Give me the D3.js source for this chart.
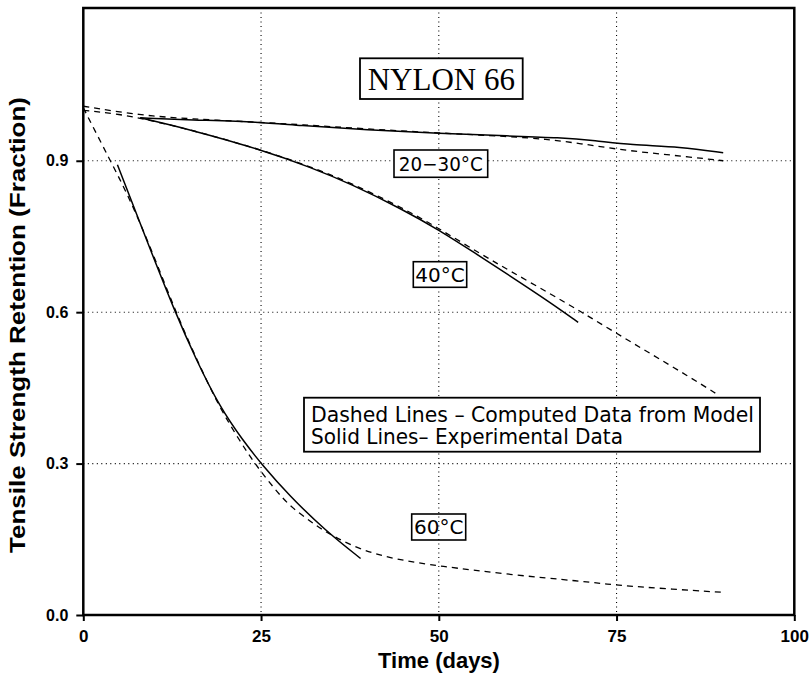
<!DOCTYPE html>
<html>
<head>
<meta charset="utf-8">
<script src="https://cdn.jsdelivr.net/npm/d3@7"></script>
<style>
  html, body { margin: 0; padding: 0; background: #fff; }
  svg { display: block; }
  .tick text { font-family: "Liberation Sans", Arial, sans-serif; font-weight: bold; fill: #000; }
  .box-label { font-family: "DejaVu Sans", sans-serif; fill: #000; }
</style>
</head>
<body>
<svg id="mainsvg" width="812" height="674"></svg>
<script>
// values: [days, retention]
var exp2030 = [[8, 0.985], [15, 0.981], [25, 0.977], [30, 0.970], [40, 0.961], [50, 0.954], [60, 0.949], [67, 0.946], [72, 0.940], [77, 0.931], [84, 0.928], [90, 0.916]];
var model2030 = [[0, 1.008], [8, 0.990], [15, 0.983], [25, 0.976], [30, 0.972], [40, 0.963], [50, 0.955], [60, 0.948], [65, 0.943], [70, 0.934], [75, 0.923], [80, 0.915], [85, 0.908], [90, 0.900]];
var exp40 = [[8, 0.985], [15, 0.962], [25, 0.922], [32, 0.887], [37.5, 0.855], [45, 0.803], [50, 0.763], [55, 0.718], [60, 0.672], [65.6, 0.620], [69.6, 0.580]];
var model40 = [[0, 1.000], [5, 0.993], [10, 0.978], [15, 0.962], [25, 0.922], [32, 0.888], [37.5, 0.857], [45, 0.806], [50, 0.766], [55.8, 0.716], [60, 0.682], [65.6, 0.637], [70, 0.601], [75, 0.558], [80, 0.516], [85, 0.474], [89.3, 0.436]];
var exp60 = [[4.8, 0.892], [8.9, 0.743], [12.9, 0.600], [15.9, 0.505], [19.2, 0.412], [22.5, 0.345], [25, 0.300], [29, 0.236], [34, 0.168], [39, 0.112]];
var model60 = [[0, 1.005], [3.8, 0.900], [6, 0.840], [9, 0.745], [13, 0.600], [16, 0.505], [19, 0.415], [22, 0.345], [24.1, 0.300], [27, 0.248], [29.1, 0.215], [32, 0.185], [34.2, 0.163], [38.9, 0.129], [44, 0.110], [50, 0.097], [60, 0.080], [70, 0.067], [75, 0.059], [82, 0.052], [89.8, 0.045]];

var xTicks = [0, 25, 50, 75, 100];
var yTicks = [0.0, 0.3, 0.6, 0.9];
var xGrid = [25, 50, 75];
var yGrid = [0.3, 0.6, 0.9];

var svg = d3.select("#mainsvg");
var plotLeft = 83.3, plotRight = 794.3, plotTop = 8, plotBottom = 615;

var x = d3.scaleLinear().domain([0, 100]).range([plotLeft, plotRight]);
var y = d3.scaleLinear().domain([0, 1.2]).range([plotBottom, plotBottom - 1.2 * 504.7]);

// dotted grid
var grid = svg.append("g").attr("class", "grid")
  .attr("stroke", "#000").attr("stroke-width", 1.1).attr("stroke-dasharray", "1,3.5");
grid.selectAll("line.gx").data(xGrid).enter().append("line")
  .attr("x1", function (d) { return x(d); }).attr("x2", function (d) { return x(d); })
  .attr("y1", plotTop).attr("y2", plotBottom);
grid.selectAll("line.gy").data(yGrid).enter().append("line")
  .attr("x1", plotLeft).attr("x2", plotRight)
  .attr("y1", function (d) { return y(d); }).attr("y2", function (d) { return y(d); });

// curves
var line = d3.line()
  .x(function (d) { return x(d[0]); })
  .y(function (d) { return y(d[1]); })
  .curve(d3.curveBasis);

var series = [
  { data: model2030, dashed: true },
  { data: model40, dashed: true },
  { data: model60, dashed: true },
  { data: exp2030, dashed: false },
  { data: exp40, dashed: false },
  { data: exp60, dashed: false }
];
svg.append("g").attr("class", "curves").selectAll("path").data(series).enter().append("path")
  .attr("d", function (d) { return line(d.data); })
  .attr("fill", "none")
  .attr("stroke", "#000")
  .attr("stroke-width", function (d) { return d.dashed ? 1.3 : 1.5; })
  .attr("stroke-dasharray", function (d) { return d.dashed ? "6,5" : null; });

// axes
var xAxis = svg.append("g").attr("transform", "translate(0," + plotBottom + ")")
  .call(d3.axisBottom(x).tickValues(xTicks).tickFormat(d3.format("d")).tickSize(6).tickPadding(9));
var yAxis = svg.append("g").attr("transform", "translate(" + plotLeft + ",0)")
  .call(d3.axisLeft(y).tickValues(yTicks).tickFormat(d3.format(".1f")).tickSize(7).tickPadding(8));
xAxis.selectAll(".tick text").style("font-size", "17px");
yAxis.selectAll(".tick text").style("font-size", "16px");
xAxis.selectAll(".tick line").attr("stroke-width", 2);
yAxis.selectAll(".tick line").attr("stroke-width", 2);
xAxis.select(".domain").remove();
yAxis.select(".domain").remove();

// frame
svg.append("rect")
  .attr("x", plotLeft).attr("y", plotTop)
  .attr("width", plotRight - plotLeft).attr("height", plotBottom - plotTop)
  .attr("fill", "none").attr("stroke", "#000").attr("stroke-width", 2.5);

// axis titles
svg.append("text")
  .attr("x", 439).attr("y", 668)
  .attr("text-anchor", "middle")
  .style("font-family", "Liberation Sans, Arial, sans-serif")
  .style("font-weight", "bold").style("font-size", "22px")
  .text("Time (days)");
svg.append("text")
  .attr("transform", "translate(25,325) rotate(-90)")
  .attr("text-anchor", "middle")
  .attr("textLength", 456)
  .attr("lengthAdjust", "spacingAndGlyphs")
  .style("font-family", "Liberation Sans, Arial, sans-serif")
  .style("font-weight", "bold").style("font-size", "22px")
  .text("Tensile Strength Retention (Fraction)");

// boxed labels
function boxLabel(bx, by, bw, bh, lines, opts) {
  var g = svg.append("g");
  g.append("rect")
    .attr("x", bx).attr("y", by).attr("width", bw).attr("height", bh)
    .attr("fill", opts.fill ? "#fff" : "none")
    .attr("stroke", "#000").attr("stroke-width", opts.sw || 1.6);
  lines.forEach(function (t, i) {
    var txt = g.append("text")
      .attr("class", "box-label")
      .attr("x", opts.anchor == "start" ? bx + opts.pad : bx + bw / 2)
      .attr("y", opts.base[i])
      .attr("text-anchor", opts.anchor || "middle")
      .style("font-size", opts.size + "px")
      .style("font-family", opts.font || null)
      .text(t);
    if (opts.lens) {
      txt.attr("textLength", opts.lens[i]).attr("lengthAdjust", "spacingAndGlyphs");
    }
  });
}

boxLabel(360, 58.3, 162.7, 40.7, ["NYLON 66"], { fill: true, size: 31, base: [90], font: "Liberation Serif, Times New Roman, serif", sw: 1.8 });
boxLabel(394, 150, 93.7, 27.3, ["20\u221230\u00B0C"], { fill: true, size: 20, base: [171], lens: [84] });
boxLabel(413.3, 261.7, 53.4, 25.6, ["40\u00B0C"], { fill: true, size: 20, base: [282] });
boxLabel(411.7, 514, 54, 26, ["60\u00B0C"], { fill: false, size: 20, base: [534] });
boxLabel(304, 397.7, 456, 54, ["Dashed Lines \u2013 Computed Data from Model", "Solid Lines\u2013 Experimental Data"],
  { fill: true, size: 21, base: [422, 444], anchor: "start", pad: 7, sw: 1.8, lens: [443, 312] });
</script>
</body>
</html>
